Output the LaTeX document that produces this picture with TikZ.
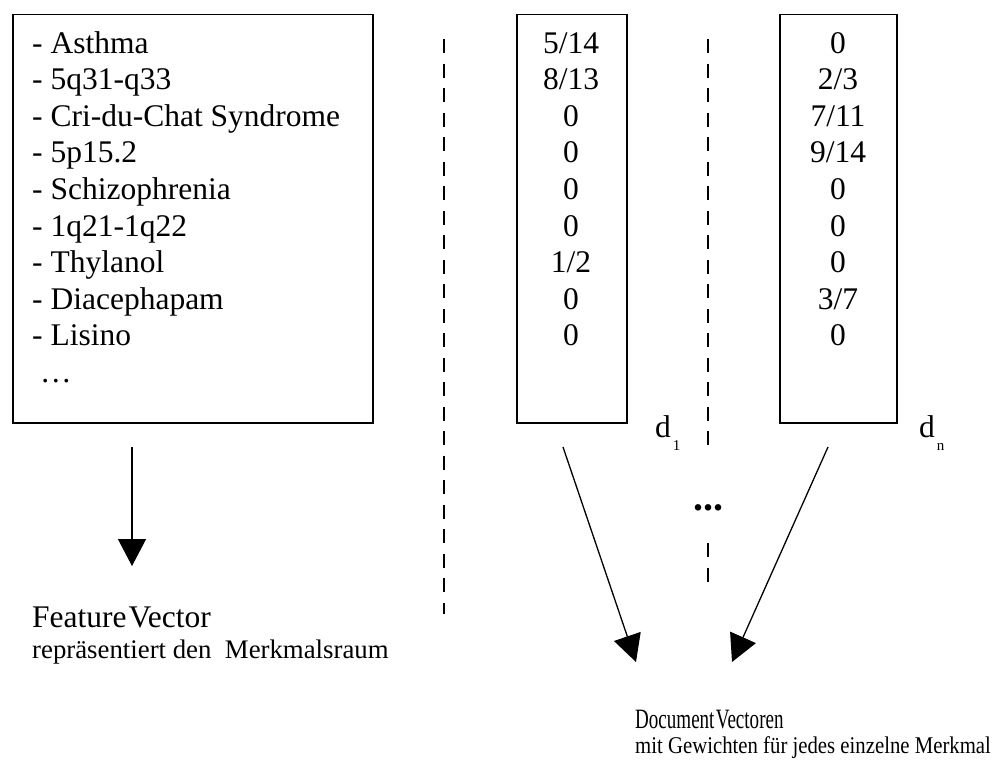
\documentclass[tikz,border=0pt]{standalone}
\usepackage{fontspec}
\setmainfont{Liberation Serif}
\usetikzlibrary{arrows.meta}
\tikzset{
  vbox/.style={draw, line width=1.5pt, anchor=north west, inner sep=0pt},
  listtxt/.style={anchor=base west, inner sep=0pt, font=\fontsize{31.5}{36}\selectfont},
  numtxt/.style={anchor=base, inner sep=0pt, font=\fontsize{31.5}{36}\selectfont},
  bigtxt/.style={anchor=base west, inner sep=0pt, font=\fontsize{31.5}{36}\selectfont},
  smalltxt/.style={anchor=base west, inner sep=0pt, font=\fontsize{26.8}{30}\selectfont},
  sep/.style={line width=1.5pt, dash pattern=on 14pt off 10.5pt},
  bigarrow/.style={line width=1.3pt, -{Triangle[length=27pt,width=28pt]}}
}
\begin{document}
\begin{tikzpicture}[x=1pt,y=-1pt]
\useasboundingbox (0,0) rectangle (992,760);
% boxes
\node[vbox, minimum width=360pt, minimum height=408pt] (fbox) at (12,14) {};
\node[vbox, minimum width=110pt, minimum height=408pt] (d1box) at (516,14) {};
\node[vbox, minimum width=117pt, minimum height=408pt] (dnbox) at (779,14) {};
% feature list
\foreach \t [count=\i] in {{- Asthma},{- 5q31-q33},{- Cri-du-Chat Syndrome},{- 5p15.2},{- Schizophrenia},{- 1q21-1q22},{- Thylanol},{- Diacephapam},{- Lisino}}{
  \node[listtxt] (f\i) at (32,{53+36.6*(\i-1)}) {\t};
}
\node[listtxt] (fdots) at (40,382) {\ldots};
% d1 values
\foreach \t [count=\i] in {5/14,8/13,0,0,0,0,1/2,0,0}{
  \node[numtxt] (a\i) at (571,{53+36.6*(\i-1)}) {\t};
}
% dn values
\foreach \t [count=\i] in {0,2/3,7/11,9/14,0,0,0,3/7,0}{
  \node[numtxt] (b\i) at (838,{53+36.6*(\i-1)}) {\t};
}
% labels d1, dn
\node[bigtxt] (d1lab) at (655,437) {d\hspace{2pt}\raisebox{-13pt}{\fontsize{15}{15}\selectfont 1}};
\node[bigtxt] (dnlab) at (919,437) {d\hspace{2pt}\raisebox{-13pt}{\fontsize{15}{15}\selectfont n}};
% separators
\coordinate (s1t) at (444,39);
\coordinate (s1b) at (444,614);
\draw[sep] (s1t) -- (s1b);
\coordinate (s2t) at (708,39);
\coordinate (s2b) at (708,446);
\draw[sep] (s2t) -- (s2b);
\coordinate (s3t) at (708,543);
\coordinate (s3b) at (708,582);
\draw[sep] (s3t) -- (s3b);
\node[anchor=base, inner sep=0pt, font=\fontsize{40}{40}\selectfont\bfseries] (mdots) at (708,510) {...};
% captions
\node[bigtxt] (fv) at (32,627) {Feature\hspace{2pt}Vector};
\node[smalltxt] (fvsub) at (32,658) {repräsentiert den~~Merkmalsraum};
\node[anchor=base west, inner sep=0pt, font=\fontsize{28}{32}\selectfont] (dv) at (635,728) {\scalebox{0.68}[1]{Document\hspace{2pt}Vectoren}};
\node[anchor=base west, inner sep=0pt, font=\fontsize{24}{28}\selectfont] (dvsub) at (635,753) {\scalebox{0.865}[1]{mit Gewichten für jedes einzelne Merkmal}};
% arrows
\coordinate (fs) at (132,447);
\coordinate (fe) at (132,566);
\draw[bigarrow] (fs) -- (fe);
\coordinate (d1s) at (563,447);
\coordinate (d1e) at (636,662);
\draw[bigarrow] (d1s) -- (d1e);
\coordinate (dns) at (828,447);
\coordinate (dne) at (732,662);
\draw[bigarrow] (dns) -- (dne);
\end{tikzpicture}
\end{document}
